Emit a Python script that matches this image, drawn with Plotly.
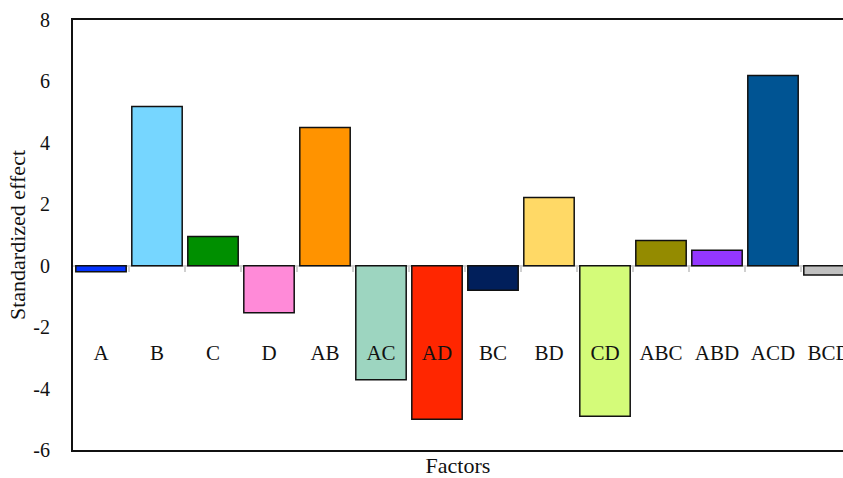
import plotly.graph_objects as go

factors = ["A", "B", "C", "D", "AB", "AC", "AD", "BC", "BD", "CD", "ABC", "ABD", "ACD", "BCD"]
effects = [-0.2, 5.18, 0.95, -1.53, 4.5, -3.71, -5.0, -0.8, 2.22, -4.9, 0.82, 0.5, 6.19, -0.3]
colors = ["#0433ff", "#76d6ff", "#008f00", "#ff8ad8", "#ff9300", "#9dd5c0", "#ff2600", "#011f5b",
          "#ffd966", "#d4fb79", "#948b00", "#9437ff", "#005493", "#c0c0c0"]
y_ticks = [-6, -4, -2, 0, 2, 4, 6, 8]
y_tick_text = ["-6", "-4", "-2", "0", "2", "4", "6", "8"]
label_y = -2.9

idx = list(range(len(factors)))
font = "Liberation Serif, Times New Roman, serif"

fig = go.Figure()
fig.add_trace(go.Bar(
    x=idx, y=effects, marker=dict(color=colors, line=dict(color="#111111", width=1.5)),
    width=0.9, showlegend=False, hoverinfo="skip",
))
fig.add_trace(go.Scatter(
    x=idx, y=[label_y] * len(factors), mode="text", text=factors,
    textfont=dict(family=font, size=21, color="#111111"), showlegend=False,
    xaxis="x2", hoverinfo="skip", cliponaxis=False,
))

xr = [-0.5, 13.25]
fig.update_layout(
    width=843, height=478,
    margin=dict(l=73, r=0, t=20, b=28),
    paper_bgcolor="white", plot_bgcolor="white",
    font=dict(family=font, size=20, color="#111111"),
    xaxis=dict(range=xr, showline=True, linecolor="#111111", linewidth=2, mirror=True,
               showticklabels=False, ticks="", showgrid=False, zeroline=False, automargin=False,
               title=dict(text="Factors", font=dict(size=22), standoff=8)),
    xaxis2=dict(range=xr, overlaying="x", anchor="free", position=6 / 14, side="bottom",
                showline=True, linecolor="#d0d0d0", linewidth=2,
                tickvals=[i + 0.5 for i in idx], ticks="outside", ticklen=5, tickwidth=2,
                tickcolor="#d0d0d0", showticklabels=False, showgrid=False, zeroline=False,
                layer="below traces", automargin=False),
    yaxis=dict(range=[-6, 8], tickvals=y_ticks, ticktext=y_tick_text, showline=True,
               linecolor="#111111", linewidth=2, automargin=False,
               ticks="", showgrid=False, zeroline=False, ticklabelstandoff=17,
               title=dict(text="Standardized effect", font=dict(size=22), standoff=2)),
)

fig.write_html("out.html", config={"displayModeBar": False},
               post_script="document.body.style.margin='0';document.body.style.overflow='hidden';")
